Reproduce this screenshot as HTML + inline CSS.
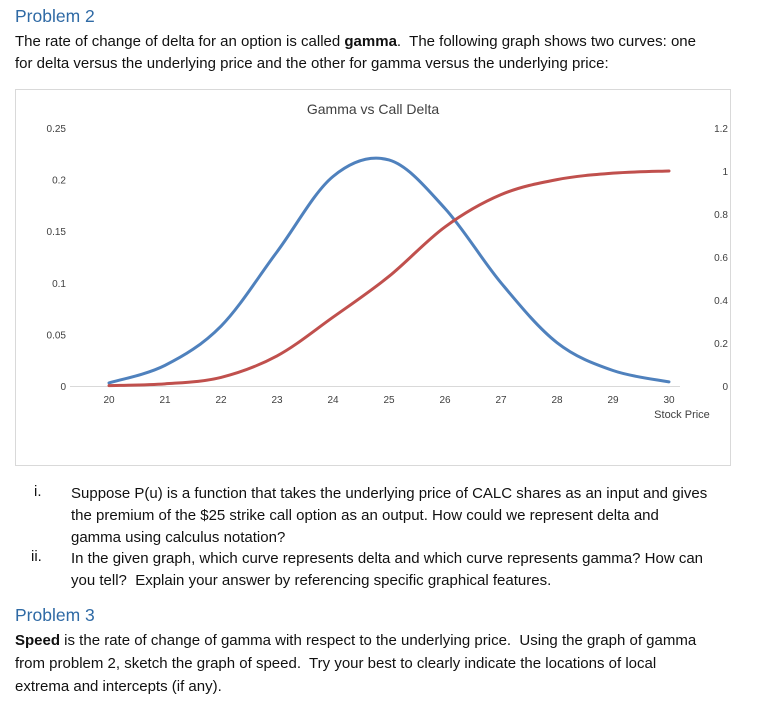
<!DOCTYPE html>
<html><head><meta charset="utf-8"><style>
body{margin:0;width:769px;height:701px;background:#fff;font-family:"Liberation Sans",sans-serif;color:#111;position:relative;overflow:hidden}
.t{position:absolute;white-space:nowrap;font-size:15px}
.h{position:absolute;font-size:17.5px;color:#2f6aa5}
</style></head><body>
<div class="h" style="left:15px;top:6px">Problem 2</div>
<div class="t" style="left:15px;top:33px">The rate of change of delta for an option is called <b>gamma</b>.&nbsp; The following graph shows two curves: one</div>
<div class="t" style="left:15px;top:55px">for delta versus the underlying price and the other for gamma versus the underlying price:</div>

<svg id="chart" width="769" height="701" style="position:absolute;left:0;top:0">
<rect x="15.5" y="89.5" width="715" height="376" fill="none" stroke="#d9d9d9"/>
<text x="373" y="114" text-anchor="middle" font-size="14" fill="#404040" font-family="Liberation Sans">Gamma vs Call Delta</text>
<text x="682" y="418" text-anchor="middle" font-size="11" fill="#404040" font-family="Liberation Sans">Stock Price</text>
</svg>

<div class="t" style="left:34px;top:483px">i.</div>
<div class="t" style="left:71px;top:483px;line-height:22px">Suppose P(u) is a function that takes the underlying price of CALC shares as an input and gives<br>the premium of the $25 strike call option as an output. How could we represent delta and<br>gamma using calculus notation?</div>
<div class="t" style="left:31px;top:548px">ii.</div>
<div class="t" style="left:71px;top:548px;line-height:22px">In the given graph, which curve represents delta and which curve represents gamma? How can<br>you tell?&nbsp; Explain your answer by referencing specific graphical features.</div>
<div class="h" style="left:15px;top:605px">Problem 3</div>
<div class="t" style="left:15px;top:629px;line-height:23px"><b>Speed</b> is the rate of change of gamma with respect to the underlying price.&nbsp; Using the graph of gamma<br>from problem 2, sketch the graph of speed.&nbsp; Try your best to clearly indicate the locations of local<br>extrema and intercepts (if any).</div>

<script>
const prices=[20,21,22,23,24,25,26,27,28,29,30];
const gamma=[0.003,0.02,0.058,0.13,0.203,0.219,0.172,0.1,0.042,0.015,0.004];
const delta=[0.002,0.01,0.04,0.14,0.32,0.51,0.74,0.89,0.96,0.99,1.0];
const leftTicks=["0","0.05","0.1","0.15","0.2","0.25"];
const leftVals=[0,0.05,0.1,0.15,0.2,0.25];
const rightTicks=["0","0.2","0.4","0.6","0.8","1","1.2"];
const rightVals=[0,0.2,0.4,0.6,0.8,1,1.2];
const xTicks=[20,21,22,23,24,25,26,27,28,29,30];
const svg=document.getElementById('chart');const NS='http://www.w3.org/2000/svg';
const X=v=>109+(v-20)*56, YL=v=>386-v/0.25*258, YR=v=>386-v/1.2*258;
function mk(t,a){const e=document.createElementNS(NS,t);for(const k in a)e.setAttribute(k,a[k]);svg.appendChild(e);return e;}
const ax=mk('line',{x1:70,x2:680,y1:386.5,y2:386.5,stroke:'#d9d9d9'});


xTicks.forEach(v=>{const t=mk('text',{x:X(v),y:403,'text-anchor':'middle','font-size':10,fill:'#404040','font-family':'Liberation Sans'});t.textContent=v;

});
leftVals.forEach((v,i)=>{const t=mk('text',{x:66,y:YL(v)+4,'text-anchor':'end','font-size':10,fill:'#404040','font-family':'Liberation Sans'});t.textContent=leftTicks[i];

});
rightVals.forEach((v,i)=>{const t=mk('text',{x:728,y:YR(v)+4,'text-anchor':'end','font-size':10,fill:'#404040','font-family':'Liberation Sans'});t.textContent=rightTicks[i];

});
function path(ys,Y){const p=prices.map((x,i)=>[X(x),Y(ys[i])]);let d='M'+p[0];for(let i=0;i<p.length-1;i++){const p0=p[i-1]||p[i],p1=p[i],p2=p[i+1],p3=p[i+2]||p2;
d+=' C'+[p1[0]+(p2[0]-p0[0])/6,p1[1]+(p2[1]-p0[1])/6]+' '+[p2[0]-(p3[0]-p1[0])/6,p2[1]-(p3[1]-p1[1])/6]+' '+p2;}return d;}
const g=mk('path',{d:path(gamma,YL),fill:'none',stroke:'#4f81bd','stroke-width':3,'stroke-linecap':'round'});


const dl=mk('path',{d:path(delta,YR),fill:'none',stroke:'#c0504d','stroke-width':3,'stroke-linecap':'round'});


</script>
</body></html>
